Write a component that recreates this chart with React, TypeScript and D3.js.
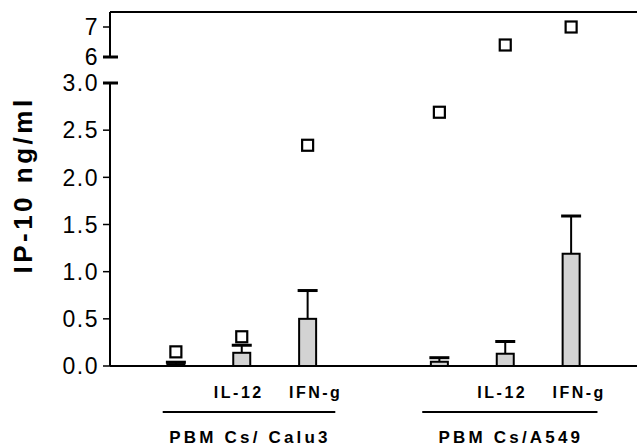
import React from "react";
import * as d3 from "d3";

const positions = [1, 2, 3, 5, 6, 7];
const barMeans = [0.02, 0.14, 0.5, 0.045, 0.13, 1.19];
const errUpper = [0.04, 0.22, 0.8, 0.088, 0.26, 1.59];
const squares = [0.15, 0.31, 2.34, 2.69, 6.4, 7.0];
const catLabels = ["", "IL-12", "IFN-g", "", "IL-12", "IFN-g"];
const groups = [
  { label: "PBM Cs/ Calu3", from: 0.8, to: 3.42 },
  { label: "PBM Cs/A549", from: 4.74, to: 7.4 },
];
const lowTicks = [0, 0.5, 1.0, 1.5, 2.0, 2.5, 3.0];
const highTicks = [6, 7];

const W = 637;
const H = 446;
const FONT = "'Liberation Sans', Arial, Helvetica, sans-serif";

export default function App() {
  const x = d3.scaleLinear().domain([0, 8]).range([110, 637]);
  const yLow = d3.scaleLinear().domain([0, 3]).range([366, 83]);
  const yHigh = d3.scaleLinear().domain([6, 7.5]).range([57, 12]);
  const y = (v: number) => (v <= 3 ? yLow(v) : yHigh(v));
  const barW = 17;
  const capW = 20;
  const sq = 11;
  const axisX = x(0);

  return (
    <div style={{ position: "absolute", left: 0, top: 0 }}>
      <svg width={W} height={H} style={{ display: "block", background: "#fff" }}>
        <line x1={axisX} x2={W} y1={yHigh(7.5)} y2={yHigh(7.5)} stroke="#000" strokeWidth={2} />
        <line x1={axisX} x2={axisX} y1={yHigh(7.5)} y2={yHigh(6)} stroke="#000" strokeWidth={2} />
        <line x1={axisX} x2={axisX} y1={yLow(3)} y2={yLow(0)} stroke="#000" strokeWidth={2} />
        <line x1={axisX} x2={W} y1={yLow(0)} y2={yLow(0)} stroke="#000" strokeWidth={2} />
        <line x1={axisX - 7} x2={axisX + 8} y1={yHigh(6)} y2={yHigh(6)} stroke="#000" strokeWidth={3} />
        <line x1={axisX - 7} x2={axisX + 8} y1={yLow(3)} y2={yLow(3)} stroke="#000" strokeWidth={3} />
        {highTicks.map((t) => (
          <g key={"h" + t}>
            {t !== 6 && (
              <line x1={axisX - 7} x2={axisX} y1={yHigh(t)} y2={yHigh(t)} stroke="#000" strokeWidth={1.5} />
            )}
            <text x={axisX - 11} y={yHigh(t)} dy="0.36em" textAnchor="end" fontFamily={FONT} fontSize={23} letterSpacing={1.5}>
              {String(t)}
            </text>
          </g>
        ))}
        {lowTicks.map((t) => (
          <g key={"l" + t}>
            {t !== 3 && (
              <line x1={axisX - 7} x2={axisX} y1={yLow(t)} y2={yLow(t)} stroke="#000" strokeWidth={1.5} />
            )}
            <text x={axisX - 11} y={yLow(t)} dy="0.36em" textAnchor="end" fontFamily={FONT} fontSize={23} letterSpacing={1.5}>
              {d3.format(".1f")(t)}
            </text>
          </g>
        ))}
        {positions.map((p, i) => {
          const cx = x(p);
          return (
            <g key={"b" + i}>
              <line x1={cx} x2={cx} y1={y(barMeans[i])} y2={y(errUpper[i])} stroke="#000" strokeWidth={2} />
              <line x1={cx - capW / 2} x2={cx + capW / 2} y1={y(errUpper[i])} y2={y(errUpper[i])} stroke="#000" strokeWidth={3} />
              <rect
                x={cx - barW / 2}
                y={y(barMeans[i])}
                width={barW}
                height={yLow(0) - y(barMeans[i])}
                fill="#d3d3d3"
                stroke="#000"
                strokeWidth={2}
              />
              <rect
                x={cx - sq / 2}
                y={y(squares[i]) - sq / 2}
                width={sq}
                height={sq}
                fill="#fff"
                stroke="#000"
                strokeWidth={2.2}
              />
            </g>
          );
        })}
        {positions.map((p, i) =>
          catLabels[i] ? (
            <text
              key={"c" + i}
              x={x(p) + (catLabels[i] === "IFN-g" ? 8 : -3)}
              y={398}
              textAnchor="middle"
              fontFamily={FONT}
              fontWeight="bold"
              fontSize={16}
              letterSpacing={2.5}
            >
              {catLabels[i]}
            </text>
          ) : null
        )}
        {groups.map((g) => (
          <g key={g.label}>
            <line x1={x(g.from)} x2={x(g.to)} y1={412} y2={412} stroke="#000" strokeWidth={2} />
            <text
              x={(x(g.from) + x(g.to)) / 2 + 1}
              y={443}
              textAnchor="middle"
              fontFamily={FONT}
              fontWeight="bold"
              fontSize={17}
              letterSpacing={3.2}
            >
              {g.label}
            </text>
          </g>
        ))}
        <text
          transform={`translate(32, 185) rotate(-90)`}
          textAnchor="middle"
          fontFamily={FONT}
          fontWeight="bold"
          fontSize={26}
          letterSpacing={3.5}
        >
          IP-10 ng/ml
        </text>
      </svg>
    </div>
  );
}
